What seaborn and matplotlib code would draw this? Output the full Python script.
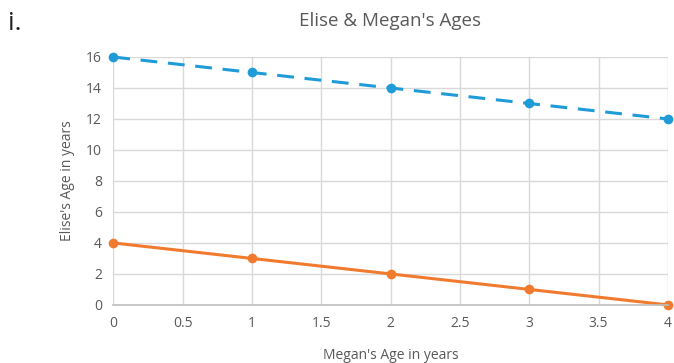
import matplotlib
matplotlib.use("Agg")
import matplotlib.pyplot as plt
import seaborn as sns
import pandas as pd

# Data
megan_age = [0, 1, 2, 3, 4]
elise_age_dashed = [16, 15, 14, 13, 12]
elise_age_solid = [4, 3, 2, 1, 0]

sns.set_theme(style="white")
plt.rcParams["font.family"] = ["Open Sans", "DejaVu Sans"]

df = pd.DataFrame({
    "megan": megan_age * 2,
    "elise": elise_age_dashed + elise_age_solid,
    "series": ["dashed"] * 5 + ["solid"] * 5,
})

fig = plt.figure(figsize=(6.74, 3.63), dpi=100)
ax = fig.add_axes([0.168, 0.160, 0.823, 0.683])

blue = "#1f9bd7"
orange = "#f07b2f"
grey_text = "#595959"

sns.lineplot(data=df[df.series == "dashed"], x="megan", y="elise", ax=ax,
             color=blue, linewidth=2.2, linestyle=(0, (5.5, 3.5)), marker="o",
             markersize=7, markeredgewidth=0, clip_on=False)
sns.lineplot(data=df[df.series == "solid"], x="megan", y="elise", ax=ax,
             color=orange, linewidth=2.2, marker="o",
             markersize=7, markeredgewidth=0, clip_on=False)

ax.set_xlim(0, 4)
ax.set_ylim(0, 16)
ax.set_xticks([0, 0.5, 1, 1.5, 2, 2.5, 3, 3.5, 4])
ax.set_xticklabels(["0", "0.5", "1", "1.5", "2", "2.5", "3", "3.5", "4"])
ax.set_yticks(range(0, 17, 2))
ax.grid(True, color="#d9d9d9", linewidth=1)
ax.set_axisbelow(True)
for side in ["top", "right", "left"]:
    ax.spines[side].set_visible(False)
ax.spines["bottom"].set_color("#bfbfbf")
ax.spines["bottom"].set_linewidth(1.2)
ax.tick_params(axis="both", colors=grey_text, labelsize=10, length=0, pad=8)

ax.set_xlabel("Megan's Age in years", color=grey_text, fontsize=10, labelpad=12)
ax.set_ylabel("Elise's Age in years", color=grey_text, fontsize=10, labelpad=8)

fig.text(0.578, 0.943, "Elise & Megan's Ages", ha="center", va="center",
         color=grey_text, fontsize=13.5)
fig.text(0.012, 0.935, "i.", ha="left", va="center", color="#222222", fontsize=19)

fig.savefig("out.png", dpi=100)
